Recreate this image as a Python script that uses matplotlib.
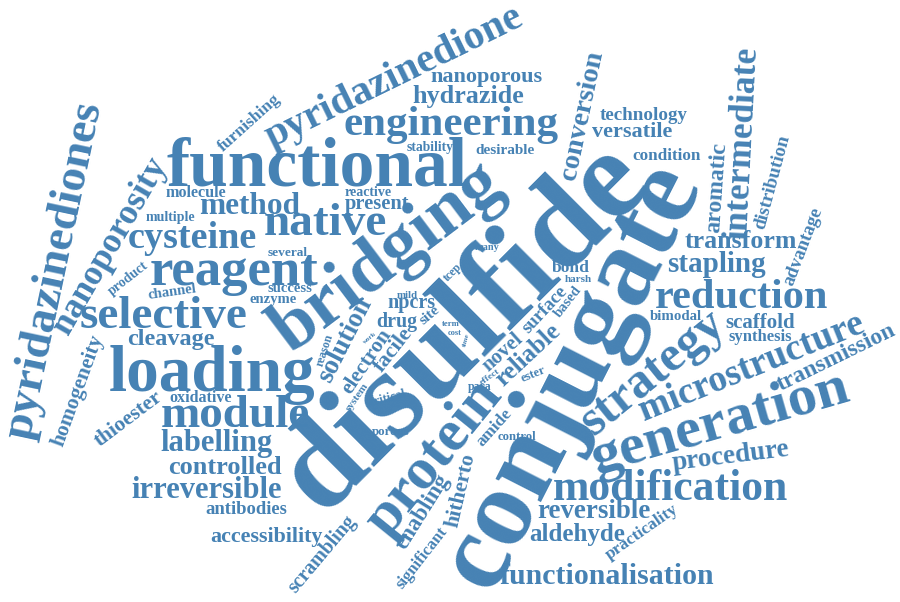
import matplotlib
matplotlib.use("Agg")
import matplotlib.pyplot as plt

# word cloud data: words and their weights (drawn as font size in pt)
words = [
    "disulfide", "conjugate", "bridging", "functional", "loading", "protein",
    "generation", "reagent", "strategy", "selective", "module", "native",
    "pyridazinediones", "modification", "pyridazinedione", "engineering",
    "reduction", "microstructure", "cysteine", "intermediate", "nanoporosity",
    "method", "labelling", "irreversible", "functionalisation", "stapling",
    "conversion", "procedure", "solution", "reliable", "reversible",
    "controlled", "hydrazide", "transform", "aldehyde", "cleavage",
    "aromatic", "thioester", "enabling", "transmission", "hitherto",
    "versatile", "nanoporous", "facile", "homogeneity", "accessibility",
    "scaffold", "electron", "present", "novel", "scrambling", "npcrs", "drug",
    "distribution", "technology", "advantage", "antibodies", "surface",
    "furnishing", "bond", "practicality", "amide", "condition", "synthesis",
    "significant", "molecule", "oxidative", "desirable", "site", "bimodal",
    "success", "enzyme", "channel", "product", "reactive", "multiple",
    "stability", "based", "several", "porous", "control", "ester", "tcep",
    "critical", "para", "reason", "harsh", "system", "mild", "many", "effect",
    "term", "cost", "time", "work",
]
weights = [
    92, 80, 53, 50, 47, 43,
    42, 38, 36, 34, 34, 34,
    34, 31.5, 29.5, 31,
    30.5, 27, 27.5, 25.5, 25.5,
    22.5, 22, 22, 21.5, 21,
    20.5, 19.5, 19.5, 18, 19.4,
    19, 18.8, 18.6, 18, 17.5,
    17, 15.5, 16.5, 17, 15.7,
    16, 16, 16, 15.5, 15.8,
    15, 15.5, 14.8, 15, 14.3, 14.5, 14.4,
    13.8, 13.7, 13.5, 13.4, 13.4,
    12.6, 12.6, 12.5, 12.4, 12.3, 12,
    12, 11.6, 11.6, 11, 11, 10.7,
    10.5, 10.5, 10.6, 10, 10, 10,
    9.8, 10.5, 9.6, 9.3, 9.2, 9, 8.5,
    8.9, 8.6, 8.6, 8, 8, 7.8, 7.5, 6.8,
    6.3, 6, 5.3, 5,
]

# layout: centre (x, y) in pixels from the top-left, rotation in degrees
layout = [
    (465, 327, 45), (572, 376, 63), (388, 258, 37), (317, 169, 0), (212, 375, 0), (434, 458, 51),
    (720, 423, 16), (234, 272, 0), (653, 373, 39), (164, 317, 0), (235, 416, 0), (325, 224, 0),
    (55, 270, 78), (671, 489, 0), (394, 78, 26), (451, 125, 0),
    (742, 298, 0), (752, 367, 22), (192, 238, 0), (743, 143, 87), (110, 246, 60),
    (250, 207, 0), (216, 443, 0), (207, 490, 0), (607, 576, 0), (716, 265, 0),
    (582, 115, 78), (731, 456, 7), (345, 340, 63), (528, 355, 43), (594, 511, 0),
    (225, 467, 0), (468, 97, 0), (741, 242, 0), (577, 535, 0), (171, 339, 0),
    (717, 188, 86), (129, 419, 37), (423, 512, 58), (836, 358, 26), (461, 490, 77),
    (632, 132, 0), (486, 77, 0), (393, 350, 52), (78, 390, 70), (266, 537, 0),
    (760, 323, 0), (367, 362, 56), (377, 204, 0), (503, 352, 42), (322, 554, 50), (411, 303, 0), (397, 322, 0),
    (772, 182, 75), (644, 116, 0), (803, 246, 69), (246, 510, 0), (545, 310, 47),
    (249, 123, 42), (571, 268, 0), (642, 532, 35), (495, 428, 48), (667, 156, 0), (760, 337, 0),
    (422, 558, 52), (196, 193, 0), (201, 398, 0), (505, 150, 0), (430, 315, 40), (676, 316, 0),
    (290, 289, 0), (273, 299, 0), (172, 292, 8), (128, 278, 38), (368, 193, 0), (170, 218, 0),
    (430, 147, 0), (568, 302, 52), (288, 253, 0), (391, 432, 0), (517, 437, 0), (533, 374, 22), (453, 272, 45),
    (388, 398, 15), (480, 387, 0), (325, 350, 72), (578, 279, 0), (357, 397, 55), (407, 295, 0), (487, 248, 0), (490, 377, 35),
    (451, 324, 0), (455, 333, 0), (466, 340, 75), (370, 338, 40),
]

fig = plt.figure(figsize=(9, 6.02), dpi=100)
ax = fig.add_axes([0, 0, 1, 1])
ax.set_xlim(0, 900)
ax.set_ylim(602, 0)
ax.axis("off")

for word, w, (x, y, rot) in zip(words, weights, layout):
    ax.text(x, y, word, fontsize=w, rotation=rot, rotation_mode="anchor",
            ha="center", va="center", color="#4682b4",
            family="Liberation Serif", weight="bold")

fig.savefig("out.png", dpi=100, facecolor="white")
